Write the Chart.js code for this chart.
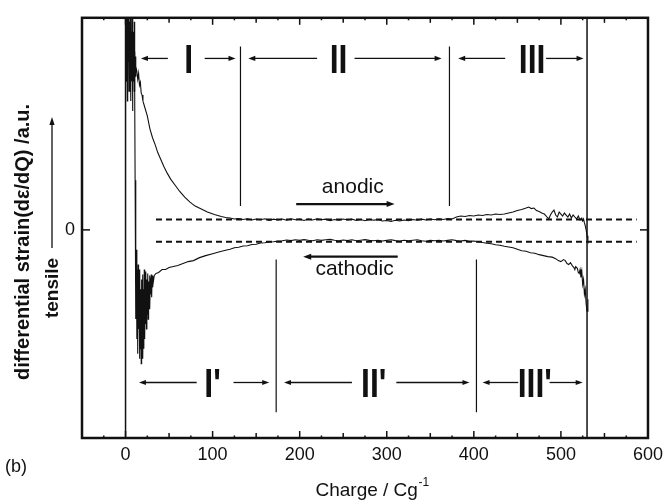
<!DOCTYPE html>
<html><head><meta charset="utf-8">
<script src="https://cdn.jsdelivr.net/npm/chart.js@4.4.1/dist/chart.umd.min.js"></script>
<style>html,body{margin:0;padding:0;background:#fff;}canvas{display:block;}</style>
</head><body>
<canvas id="c" width="669" height="500"></canvas>
<script>
// ---------- data ----------
const anodicCharge = [
  0.5,1,1.5,2,2.5,3,3.5,4,4.5,5,5.5,6,6.5,7,7.5,8,8.5,9,9.5,10,10.5,11,11.5,12,
  13,14,15,16,17,18,19,20,22,25,28,31,34,37,40,44,48,52,57,62,68,74,80,87,94,102,110,115,
  120,125,130,135,140,145,150,155,160,165,170,175,180,185,190,195,200,205,210,215,220,225,230,235,240,245,250,255,260,265,
  270,275,280,285,290,295,300,305,310,315,320,325,330,335,340,345,350,355,360,365,370,375,
  380,385,390,395,400,405,410,415,420,425,430,435,440,445,450,455,460,463,466,469,472,475,478,481,484,
  486,488,490,492,494,496,498,500,502,504,506,508,510,512,514,516,518,520,522,524,525,526,527,528,529,530,531];
const anodicStrain = [
  24,15,23,13,22,17,24,14,21,16,23,13,20,15,22,12,19,15,20,14,18,15.5,17.5,16.5,
  16,15.2,15.8,14.6,14.9,13.8,13.6,13.0,12.4,11.5,10.2,9.3,8.6,7.8,7.2,6.4,5.7,5.1,4.5,3.9,3.3,2.8,2.4,2.1,1.8,1.55,1.35,1.25,
  1.2,1.1,1.15,1.05,1.12,1.0,1.1,1.02,1.12,0.95,1.08,1.0,1.1,0.98,1.12,1.02,1.08,0.95,1.1,1.0,1.12,1.02,1.08,0.92,1.05,0.98,1.1,1.0,1.08,0.95,
  1.05,0.92,1.06,0.98,1.02,0.9,0.95,0.85,0.97,0.9,1.0,0.92,1.05,0.98,1.08,1.0,1.1,1.02,1.12,1.05,1.15,1.1,
  1.3,1.4,1.35,1.45,1.4,1.5,1.45,1.55,1.5,1.6,1.55,1.6,1.7,1.8,1.95,2.05,2.2,2.3,2.15,2.2,1.95,1.85,1.7,1.6,1.3,
  1.1,1.5,1.8,2.0,1.5,1.3,1.8,1.6,1.4,1.7,1.5,1.3,1.6,1.2,1.5,1.3,1.1,1.4,1.0,1.2,0.9,1.1,0.7,0.4,0.0,-0.6,-1.0];
const cathodicCharge = [
  10,10.5,11,11.5,12,12.5,13,13.5,14,14.5,15,15.5,16,16.5,17,17.5,18,18.5,19,19.5,20,20.5,21,21.5,22,22.5,23,23.5,24,24.5,
  25,25.5,26,26.5,27,27.5,28,28.5,29,29.5,30,30.5,31,31.5,32,
  33,35,38,42,46,50,55,60,66,72,78,85,92,100,108,115,
  120,125,130,135,140,145,150,155,160,165,170,175,180,185,190,195,200,205,210,215,220,225,230,235,240,245,250,255,260,265,
  270,275,280,285,290,295,300,305,310,315,320,325,330,335,340,345,350,355,360,365,370,375,380,385,390,395,400,
  405,410,415,420,425,430,435,440,445,450,455,460,465,470,475,480,485,490,494,497,500,503,505,507,509,511,513,515,
  516,517,519,520,521,522,523,524,525,526,527,528,529,530,531];
const cathodicStrain = [
  21,14,5,-4,-9,-2,-11,-4,-12.5,-3.5,-10,-5,-13,-4,-12,-6,-13.5,-5,-11,-4.5,-13,-6,-12,-4,-11,-5.5,-9.5,-4.2,-10,-5,
  -8.5,-4.4,-9,-5.2,-7.5,-4.6,-8,-4.8,-6.5,-4.5,-6.8,-4.7,-5.8,-4.6,-5.2,
  -4.6,-4.4,-4.3,-4.0,-4.0,-3.8,-3.7,-3.6,-3.4,-3.2,-3.1,-2.8,-2.6,-2.4,-2.2,-2.05,
  -1.95,-1.8,-1.75,-1.62,-1.6,-1.48,-1.45,-1.33,-1.3,-1.22,-1.2,-1.12,-1.1,-1.02,-1.08,-1.0,-1.06,-0.98,-1.05,-1.1,-1.0,-1.06,-1.0,-0.96,-1.05,-1.1,-1.02,-1.08,-1.0,-1.1,
  -1.04,-0.98,-1.06,-1.1,-1.04,-1.12,-1.06,-1.0,-1.08,-1.12,-1.05,-1.1,-1.04,-1.0,-1.1,-1.15,-1.06,-1.1,-1.04,-1.12,-1.06,-1.0,-1.08,-1.12,-1.06,-1.15,-1.12,
  -1.2,-1.28,-1.35,-1.4,-1.5,-1.55,-1.65,-1.72,-1.8,-1.95,-2.1,-2.15,-2.3,-2.35,-2.5,-2.6,-2.7,-2.75,-2.9,-3.1,-3.2,-3.0,-3.1,-3.4,-3.5,-3.3,-3.6,-3.8,
  -4.0,-3.7,-3.9,-4.3,-4.4,-4.0,-4.8,-4.2,-5.5,-5.0,-6.5,-6.0,-7.5,-8.2,-7.0];
const xTickValues = [0,100,200,300,400,500,600];
const yTickValues = [0];
const yTickLabels = ['0'];
const baselineLevels = [1.05, -1.2];          // dashed reference levels
const baselineSpan = [35, 587];
const boundaryCharges = [0, 530];             // full-height lines
const anodicDividers = [132, 372];
const cathodicDividers = [173, 403];
const anodicRegions = ['I','II','III'];
const cathodicRegions = ["I'","II'","III'"];

// ---------- layout / annotation geometry ----------
const X_MIN = -50, X_MAX = 600, Y_MIN = -21, Y_MAX = 21.4;
const ink = '#111';
const FONT = "'Liberation Sans', Arial, Helvetica, sans-serif";
const geo = {
  upperDivY: [18.5, 2.4], lowerDivY: [-3.0, -18.4],
  upperY: 17.3, lowerY: -15.4,
  upperLabelX: [72.6, 244.6, 467],
  lowerLabelX: [100, 285, 470],
  upperArrows: [[48.6,17.7],[90.9,126.3],[220,141],[263,363],[436,382],[483,526]],
  lowerArrows: [[81.7,15.4],[124,165],[260,182],[311,395],[451,410],[487,525]],
  anodic: {x:261, y:4.3, a:[196,309], ay:2.6},
  cathodic: {x:263, y:-4.0, a:[312.6,204], ay:-2.7}
};

Chart.defaults.font.family = FONT;
Chart.defaults.color = ink;

const pts = (xs, ys) => xs.map((v,i)=>({x:v, y:ys[i]}));
const lineDS = (data, w, dash) => ({data, borderColor: ink, borderWidth: w, borderDash: dash||[], pointRadius: 0, showLine: true, tension: 0, fill: false});

const datasets = [
  lineDS(pts(anodicCharge, anodicStrain), 1.1),
  lineDS(pts(cathodicCharge, cathodicStrain), 1.1),
  ...baselineLevels.map(v => lineDS([{x:baselineSpan[0],y:v},{x:baselineSpan[1],y:v}], 1.8, [6,4])),
  ...boundaryCharges.map(c => lineDS([{x:c,y:Y_MIN},{x:c,y:Y_MAX}], 1.5)),
  ...anodicDividers.map(c => lineDS([{x:c,y:geo.upperDivY[0]},{x:c,y:geo.upperDivY[1]}], 1.2)),
  ...cathodicDividers.map(c => lineDS([{x:c,y:geo.lowerDivY[0]},{x:c,y:geo.lowerDivY[1]}], 1.2)),
];

function arrow(ctx, x1, y1, x2, y2, lw, hl, hw){
  const ang = Math.atan2(y2-y1, x2-x1);
  ctx.lineWidth = lw;
  ctx.beginPath(); ctx.moveTo(x1,y1);
  ctx.lineTo(x2 - Math.cos(ang)*hl*0.8, y2 - Math.sin(ang)*hl*0.8); ctx.stroke();
  ctx.beginPath();
  ctx.moveTo(x2,y2);
  ctx.lineTo(x2 - Math.cos(ang)*hl - Math.sin(ang)*hw, y2 - Math.sin(ang)*hl + Math.cos(ang)*hw);
  ctx.lineTo(x2 - Math.cos(ang)*hl + Math.sin(ang)*hw, y2 - Math.sin(ang)*hl - Math.cos(ang)*hw);
  ctx.closePath(); ctx.fill();
}
function seg(ctx,x1,y1,x2,y2){ctx.beginPath();ctx.moveTo(x1,y1);ctx.lineTo(x2,y2);ctx.stroke();}
function condensedText(ctx, t, px, py, sx){
  ctx.save(); ctx.translate(px, py); ctx.scale(sx, 1); ctx.fillText(t, 0, 0); ctx.restore();
}

const overlay = {
  id: 'overlay',
  afterDatasetsDraw(chart){
    const {ctx, chartArea:a, scales:{x, y}} = chart;
    ctx.save();
    ctx.strokeStyle = ink; ctx.fillStyle = ink;
    // frame
    ctx.lineWidth = 2.5;
    ctx.strokeRect(a.left, a.top, a.right-a.left, a.bottom-a.top);
    // x ticks (inward, top and bottom)
    ctx.lineWidth = 1.5;
    for (let v = X_MIN + 25; v < X_MAX; v += 25){
      const px = x.getPixelForValue(v);
      const len = v % 100 === 0 ? 7 : (v % 50 === 0 ? 5 : 2.5);
      seg(ctx, px, a.bottom, px, a.bottom - len);
      seg(ctx, px, a.top, px, a.top + len);
    }
    yTickValues.forEach(v => {
      const py = y.getPixelForValue(v);
      seg(ctx, a.left, py, a.left + 8, py);
      seg(ctx, a.right, py, a.right - 8, py);
    });
    // region labels (condensed bold numerals)
    ctx.font = "bold 40px " + FONT;
    ctx.textAlign = 'center'; ctx.textBaseline = 'alphabetic';
    const capHalf = 0.716*40/2;
    anodicRegions.forEach((t,i)=> condensedText(ctx, t, x.getPixelForValue(geo.upperLabelX[i]), y.getPixelForValue(geo.upperY) + capHalf, 0.8));
    cathodicRegions.forEach((t,i)=> condensedText(ctx, t, x.getPixelForValue(geo.lowerLabelX[i]), y.getPixelForValue(geo.lowerY) + capHalf, 0.8));
    geo.upperArrows.forEach(([t,h]) => { const py = y.getPixelForValue(geo.upperY); arrow(ctx, x.getPixelForValue(t), py, x.getPixelForValue(h), py, 1.3, 7, 2.6); });
    geo.lowerArrows.forEach(([t,h]) => { const py = y.getPixelForValue(geo.lowerY); arrow(ctx, x.getPixelForValue(t), py, x.getPixelForValue(h), py, 1.3, 7, 2.6); });
    // anodic / cathodic
    ctx.font = "21px " + FONT; ctx.textBaseline = 'middle';
    ctx.fillText('anodic', x.getPixelForValue(geo.anodic.x), y.getPixelForValue(geo.anodic.y));
    ctx.fillText('cathodic', x.getPixelForValue(geo.cathodic.x), y.getPixelForValue(geo.cathodic.y));
    arrow(ctx, x.getPixelForValue(geo.anodic.a[0]), y.getPixelForValue(geo.anodic.ay), x.getPixelForValue(geo.anodic.a[1]), y.getPixelForValue(geo.anodic.ay), 2.4, 8, 3);
    arrow(ctx, x.getPixelForValue(geo.cathodic.a[0]), y.getPixelForValue(geo.cathodic.ay), x.getPixelForValue(geo.cathodic.a[1]), y.getPixelForValue(geo.cathodic.ay), 2.4, 8, 3);
    // y axis title and 'tensile'
    ctx.save();
    ctx.translate(23, 242); ctx.rotate(-Math.PI/2);
    ctx.font = "bold 20px " + FONT; ctx.textBaseline = 'middle';
    ctx.fillText('differential strain(d\u03B5/dQ) /a.u.', 0, 0);
    ctx.restore();
    ctx.save();
    ctx.translate(53, 288); ctx.rotate(-Math.PI/2);
    ctx.font = "bold 19px " + FONT; ctx.textBaseline = 'middle';
    ctx.fillText('tensile', 0, 0);
    ctx.restore();
    arrow(ctx, 52, 248, 52, 117, 1.3, 8, 2.6);
    // x axis title with superscript
    ctx.textBaseline = 'alphabetic'; ctx.textAlign = 'left';
    const main = 'Charge / Cg';
    ctx.font = "19px " + FONT;
    const wMain = ctx.measureText(main).width;
    ctx.font = "12px " + FONT;
    const wSup = ctx.measureText('-1').width;
    const x0 = 372 - (wMain + wSup)/2;
    ctx.font = "19px " + FONT;
    ctx.fillText(main, x0, 496);
    ctx.font = "12px " + FONT;
    ctx.fillText('-1', x0 + wMain + 0.5, 486);
    // panel tag
    ctx.font = "18px " + FONT;
    ctx.fillText('(b)', 5, 472);
    ctx.restore();
  }
};

new Chart(document.getElementById('c'), {
  type: 'scatter',
  data: { datasets },
  options: {
    responsive: false, animation: false,
    layout: { padding: { top: 14, right: 19, left: 0, bottom: 0 } },
    plugins: { legend: { display: false }, tooltip: { enabled: false } },
    scales: {
      x: {
        type: 'linear', min: X_MIN, max: X_MAX,
        afterBuildTicks: s => { s.ticks = xTickValues.map(v => ({value: v})); },
        afterFit: s => { s.height = 62; },
        ticks: { font: { size: 18 }, color: ink, padding: 6, maxRotation: 0, autoSkip: false },
        grid: { display: false, drawTicks: false }, border: { display: false }
      },
      y: {
        type: 'linear', min: Y_MIN, max: Y_MAX,
        afterBuildTicks: s => { s.ticks = yTickValues.map(v => ({value: v})); },
        afterFit: s => { s.width = 82; },
        ticks: { font: { size: 18 }, color: ink, padding: 7, callback: (v, i) => yTickLabels[i] },
        grid: { display: false, drawTicks: false }, border: { display: false }
      }
    }
  },
  plugins: [overlay]
});
</script>
</body></html>
